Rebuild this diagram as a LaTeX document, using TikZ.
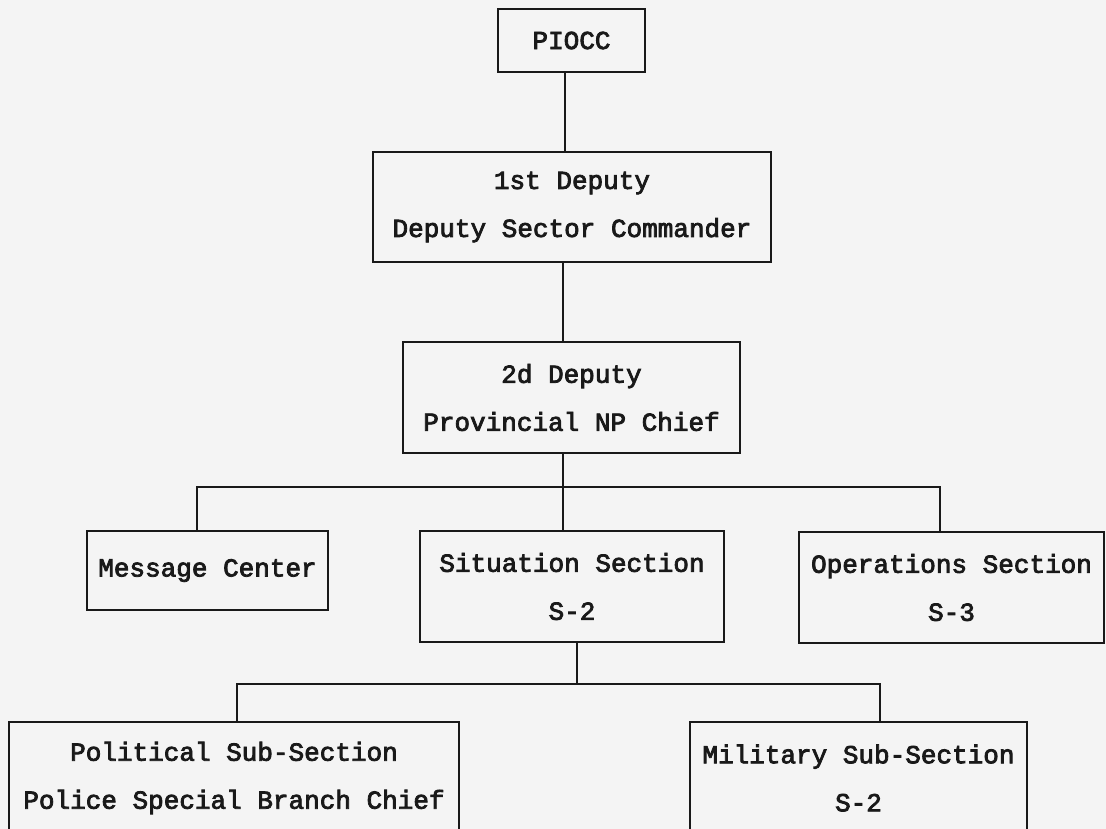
\documentclass[tikz,border=0pt]{standalone}
\usepackage{fontspec}
\newfontfamily\typewriter[FakeBold=3]{Liberation Mono}
\definecolor{paper}{RGB}{244,244,244}
\definecolor{ink}{RGB}{25,25,25}
\begin{document}
\begin{tikzpicture}[x=1pt,y=-1pt,
  box/.style={draw=ink, line width=2.4pt, rectangle, inner sep=0pt,
    align=center, text=ink, font=\typewriter\fontsize{26}{48}\selectfont},
  link/.style={draw=ink, line width=2.2pt}]
  % page
  \fill[paper] (0,0) rectangle (1106,829);
  \clip (0,0) rectangle (1106,829);

  % boxes
  \node[box, minimum width=147pt, minimum height=63pt]  (piocc) at (571.5,40.5) {PIOCC};
  \node[box, minimum width=398pt, minimum height=110pt] (dep1)  at (572,207)    {1st Deputy\\Deputy Sector Commander};
  \node[box, minimum width=337pt, minimum height=111pt] (dep2)  at (571.5,397.5){2d Deputy\\Provincial NP Chief};
  \node[box, minimum width=241pt, minimum height=79pt]  (msg)   at (207.5,570.5){Message Center};
  \node[box, minimum width=304pt, minimum height=111pt] (sit)   at (572,586.5)  {Situation Section\\S-2};
  \node[box, minimum width=305pt, minimum height=111pt] (ops)   at (951.5,587.5){Operations Section\\S-3};
  \node[box, minimum width=450pt, minimum height=112pt] (pol)   at (234,778)    {Political Sub-Section\\Police Special Branch Chief};
  \node[box, minimum width=337pt, minimum height=112pt] (mil)   at (858.5,778)  {Military Sub-Section\\S-2};

  % connector columns and bus levels
  \coordinate (c1) at (565,0);
  \coordinate (c2) at (563,0);
  \coordinate (c3) at (577,0);
  \coordinate (busA) at (0,487);
  \coordinate (busB) at (0,684);
  \coordinate (mA) at (197,0);
  \coordinate (oA) at (940,0);
  \coordinate (pB) at (237,0);
  \coordinate (qB) at (880,0);

  % chain of command
  \draw[link] (c1 |- piocc.south) -- (c1 |- dep1.north);
  \draw[link] (c2 |- dep1.south) -- (c2 |- dep2.north);
  \draw[link] (c2 |- dep2.south) -- (c2 |- sit.north);

  % first level bus
  \draw[link] (mA |- msg.north) -- (mA |- busA) -- (oA |- busA) -- (oA |- ops.north);

  % sub-sections bus
  \draw[link] (c3 |- sit.south) -- (c3 |- busB);
  \draw[link] (pB |- pol.north) -- (pB |- busB) -- (qB |- busB) -- (qB |- mil.north);
\end{tikzpicture}
\end{document}
